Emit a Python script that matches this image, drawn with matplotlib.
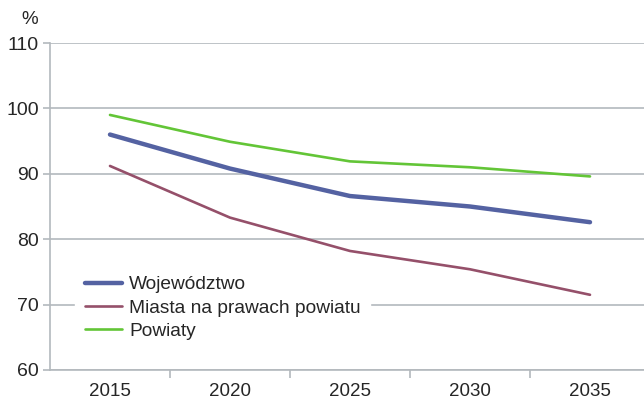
import matplotlib.pyplot as plt

plt.rcParams['font.family'] = ['Liberation Sans', 'DejaVu Sans']

years = ['2015', '2020', '2025', '2030', '2035']
wojewodztwo = [96.0, 90.8, 86.6, 85.0, 82.6]
miasta = [91.2, 83.3, 78.2, 75.4, 71.5]
powiaty = [99.0, 94.9, 91.9, 91.0, 89.6]

grid_col = '#b3b9bd'
text_col = '#262626'

fig = plt.figure(figsize=(6.44, 4.01), dpi=100)
ax = fig.add_axes([50/644, 31/401, 1 - 50/644, 327/401])

x = list(range(len(years)))
ax.plot(x, wojewodztwo, color='#5462a2', lw=3.2, solid_capstyle='round', label='Województwo', zorder=3)
ax.plot(x, miasta, color='#95506a', lw=1.9, solid_capstyle='round', label='Miasta na prawach powiatu', zorder=3)
ax.plot(x, powiaty, color='#63c537', lw=1.9, solid_capstyle='round', label='Powiaty', zorder=3)

ax.set_ylim(60, 110)
ax.set_yticks([60, 70, 80, 90, 100, 110])
ax.set_xlim(-0.5, 4.45)
ax.set_xticks(x)
ax.set_xticklabels(years)
ax.set_xticks([0.5, 1.5, 2.5, 3.5], minor=True)

ax.grid(axis='y', color=grid_col, lw=1.2)
ax.set_axisbelow(True)
for s in ['top', 'right']:
    ax.spines[s].set_visible(False)
for s in ['left', 'bottom']:
    ax.spines[s].set_color(grid_col)
    ax.spines[s].set_linewidth(1.2)

ax.tick_params(axis='y', length=5, color=grid_col, width=1.2, labelsize=14, labelcolor=text_col, pad=3)
ax.tick_params(axis='x', which='major', length=0, labelsize=13.5, labelcolor=text_col, pad=9)
ax.tick_params(axis='x', which='minor', length=6, color=grid_col, width=1.2)

fig.text(30/644, 1 - 20/401, '%', fontsize=13.5, color=text_col, ha='center', va='center')

leg = ax.legend(loc='upper left', bbox_to_anchor=(0.042, 0.317), frameon=True, fancybox=False,
                edgecolor='white', facecolor='white', framealpha=1, fontsize=13.8,
                handlelength=1.95, handletextpad=0.37, labelspacing=0.3, borderpad=0.5,
                borderaxespad=0)
for t in leg.get_texts():
    t.set_color(text_col)

fig.savefig('out.png', dpi=100)
